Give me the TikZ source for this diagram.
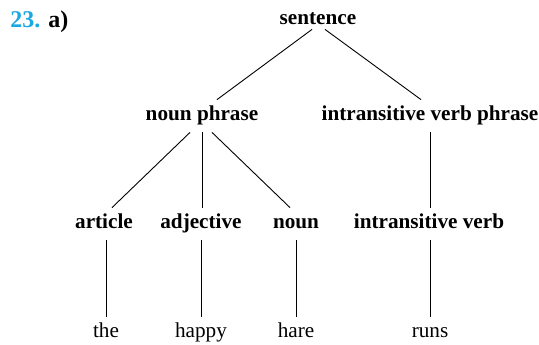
\documentclass[tikz,border=0pt]{standalone}
\usepackage{fontspec}
\setmainfont{Liberation Serif}
\usetikzlibrary{positioning}
\definecolor{numblue}{RGB}{28,168,226}
\tikzset{
  cat/.style={anchor=base, inner sep=0pt, text height=10pt, text depth=6pt,
              font=\fontsize{10.6}{12.7}\selectfont\bfseries},
  leaf/.style={anchor=base, inner sep=0pt, text height=10pt, text depth=6pt,
               font=\fontsize{10.6}{12.7}\selectfont},
  branch/.style={draw, line width=0.45pt}
}
\begin{document}
\begin{tikzpicture}[x=0.5pt, y=-0.5pt]
\useasboundingbox (0,0) rectangle (539,344);
\node[anchor=base west, inner sep=0pt, font=\fontsize{12}{14}\selectfont\bfseries] (label)
      at (10,27) {\textcolor{numblue}{23.} a)};
% root
\node[cat, text depth=2.5pt] (sentence) at (318,24) {sentence};
% phrases
\node[cat] (np) at (202,120) {noun phrase};
\node[cat] (ivp) at (430,120) {intransitive verb phrase};
% word classes
\node[cat] (article) at (104,228) {article};
\node[cat] (adjective) at (201,228) {adjective};
\node[cat] (noun) at (296,228) {noun};
\node[cat] (iverb) at (429,228) {intransitive verb};
% words
\node[leaf] (the) at (106,337) {the};
\node[leaf] (happy) at (201,337) {happy};
\node[leaf] (hare) at (296,337) {hare};
\node[leaf] (runs) at (430,337) {runs};
% branches
\draw[branch] ([xshift=-3pt]sentence.south) -- ([xshift=7.5pt]np.north);
\draw[branch] ([xshift=3.5pt]sentence.south) -- ([xshift=-4.5pt]ivp.north);
\draw[branch] ([xshift=-6pt]np.south) -- ([xshift=4pt]article.north);
\draw[branch] (np.south) -- (np.south |- adjective.north);
\draw[branch] ([xshift=5pt]np.south) -- ([xshift=-3pt]noun.north);
\draw[branch] (ivp.south) -- (ivp.south |- iverb.north);
\draw[branch] (the.north |- article.south) -- (the.north);
\draw[branch] (happy.north |- adjective.south) -- (happy.north);
\draw[branch] (hare.north |- noun.south) -- (hare.north);
\draw[branch] (runs.north |- iverb.south) -- (runs.north);
\end{tikzpicture}
\end{document}
